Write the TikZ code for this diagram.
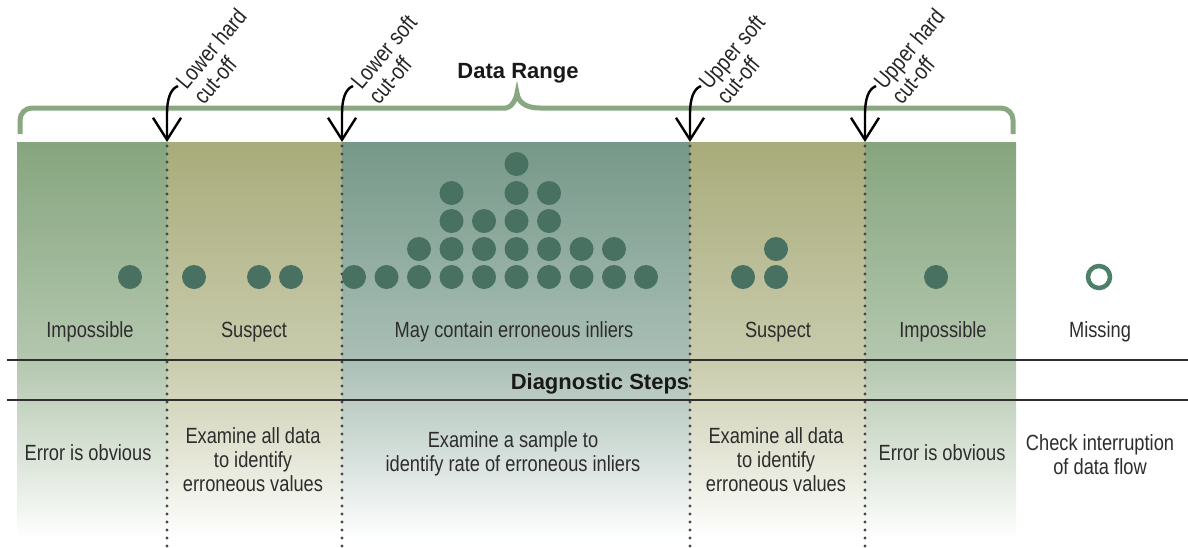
\documentclass[tikz,border=0pt]{standalone}
\usepackage{fontspec}
\setmainfont{Liberation Sans}[FakeStretch=0.83]
\newfontfamily\titlef{Liberation Sans}
\usetikzlibrary{arrows.meta}
\definecolor{impc}{RGB}{134,165,126}
\definecolor{susc}{RGB}{168,172,122}
\definecolor{midc}{RGB}{118,152,137}
\definecolor{dotc}{RGB}{72,113,97}
\definecolor{ringc}{RGB}{76,128,104}
\definecolor{bracec}{RGB}{137,168,130}
\definecolor{txtc}{RGB}{45,45,45}
\pgfdeclareverticalshading{impfade}{100bp}{color(0bp)=(white); color(26bp)=(white); color(36bp)=(impc!30!white); color(48bp)=(impc!62!white); color(75bp)=(impc); color(100bp)=(impc)}
\pgfdeclareverticalshading{susfade}{100bp}{color(0bp)=(white); color(26bp)=(white); color(36bp)=(susc!30!white); color(48bp)=(susc!62!white); color(75bp)=(susc); color(100bp)=(susc)}
\pgfdeclareverticalshading{midfade}{100bp}{color(0bp)=(white); color(26bp)=(white); color(36bp)=(midc!30!white); color(48bp)=(midc!62!white); color(75bp)=(midc); color(100bp)=(midc)}
\begin{document}
\begin{tikzpicture}[x=1pt,y=-1pt,
  lbl/.style={font=\fontsize{22}{24}\selectfont, text=txtc, inner sep=0pt, align=center},
  ttl/.style={font=\titlef\bfseries\fontsize{22}{24}\selectfont, text=black!90, inner sep=0pt},
  cutlbl/.style={font=\fontsize{23}{23}\selectfont, text=black!85, inner sep=0pt, align=left, rotate=50, anchor=west},
  cutarrow/.style={line width=2.4pt, black, -{Straight Barb[length=22pt,width=28pt]}},
  divider/.style={line width=3.2pt, line cap=round, dash pattern=on 0pt off 8pt, black!72},
  rule/.style={line width=2.5pt, black!82},
  brace/.style={line width=5pt, bracec},
  dot/.style={fill=dotc}
]
\useasboundingbox (0,0) rectangle (1188,547);

% shaded columns
\shade[shading=impfade] (17,142) rectangle (167,547);
\shade[shading=susfade] (167,142) rectangle (342,547);
\shade[shading=midfade] (342,142) rectangle (690,547);
\shade[shading=susfade] (690,142) rectangle (865,547);
\shade[shading=impfade] (865,142) rectangle (1016,547);

% dividers
\foreach \name/\x in {lh/167,ls/342,us/690,uh/865}{
  \coordinate (\name-tip) at (\x,142);
  \coordinate (\name-bot) at (\x,547);
  \draw[divider] (\x,146) -- (\name-bot);
}

% horizontal rules
\coordinate (r1a) at (7,360); \coordinate (r1b) at (1188,360);
\coordinate (r2a) at (7,400); \coordinate (r2b) at (1188,400);
\draw[rule] (r1a) -- (r1b);
\draw[rule] (r2a) -- (r2b);

% data range brace
\draw[brace] (20,134) [rounded corners=12pt] -- (20,108) -- (494,108) [sharp corners]
  .. controls (510,108) and (516,101) .. (517,93)
  .. controls (518,101) and (524,108) .. (540,108)
  [rounded corners=12pt] -- (1013,108) -- (1013,134);
\node[ttl, anchor=base] (range) at (518,78) {Data Range};

% cut-off arrows and labels
\foreach \name/\x/\ta/\tb in {lh/167/Lower hard/cut-off, ls/342/Lower soft/cut-off, us/690/Upper soft/cut-off, uh/865/Upper hard/cut-off}{
  \coordinate (\name-s) at (\x+11,86);
  \coordinate (\name-b) at (\x,114);
  \draw[cutarrow] (\name-s) .. controls +(-8,3) and +(0,-14) .. (\name-b) -- (\name-tip);
  \node[cutlbl] (\name-lbl) at (\x+22,93) {\ta\\\tb};
}

% dots
\foreach \x in {130,194,259,291,354,386.5,419,451.5,484,516.5,549,581.5,614,646,743,776,936}
  \fill[dot] (\x,277) circle (12pt);
\foreach \x in {419,451.5,484,516.5,549,581.5,614,776}
  \fill[dot] (\x,249) circle (12pt);
\foreach \x in {451.5,484,516.5,549}
  \fill[dot] (\x,221) circle (12pt);
\foreach \x in {451.5,516.5,549}
  \fill[dot] (\x,193) circle (12pt);
\fill[dot] (516.5,164) circle (12pt);
\draw[ringc, line width=4.5pt] (1099,277) circle (11pt);

% category labels
\node[lbl, anchor=base] (c1) at (90,337) {Impossible};
\node[lbl, anchor=base] (c2) at (254,337) {Suspect};
\node[lbl, anchor=base] (c3) at (514,337) {May contain erroneous inliers};
\node[lbl, anchor=base] (c4) at (778,337) {Suspect};
\node[lbl, anchor=base] (c5) at (943,337) {Impossible};
\node[lbl, anchor=base] (c6) at (1100,337) {Missing};

\node[ttl, anchor=base] (diag) at (600,389) {Diagnostic Steps};

% diagnostic steps
\node[lbl] (d1) at (88,453) {Error is obvious};
\node[lbl] (d2) at (253,460) {Examine all data\\to identify\\erroneous values};
\node[lbl] (d3) at (513,454) {Examine a sample to\\identify rate of erroneous inliers};
\node[lbl] (d4) at (776,460) {Examine all data\\to identify\\erroneous values};
\node[lbl] (d5) at (942,453) {Error is obvious};
\node[lbl] (d6) at (1100,455) {Check interruption\\of data flow};
\end{tikzpicture}
\end{document}
